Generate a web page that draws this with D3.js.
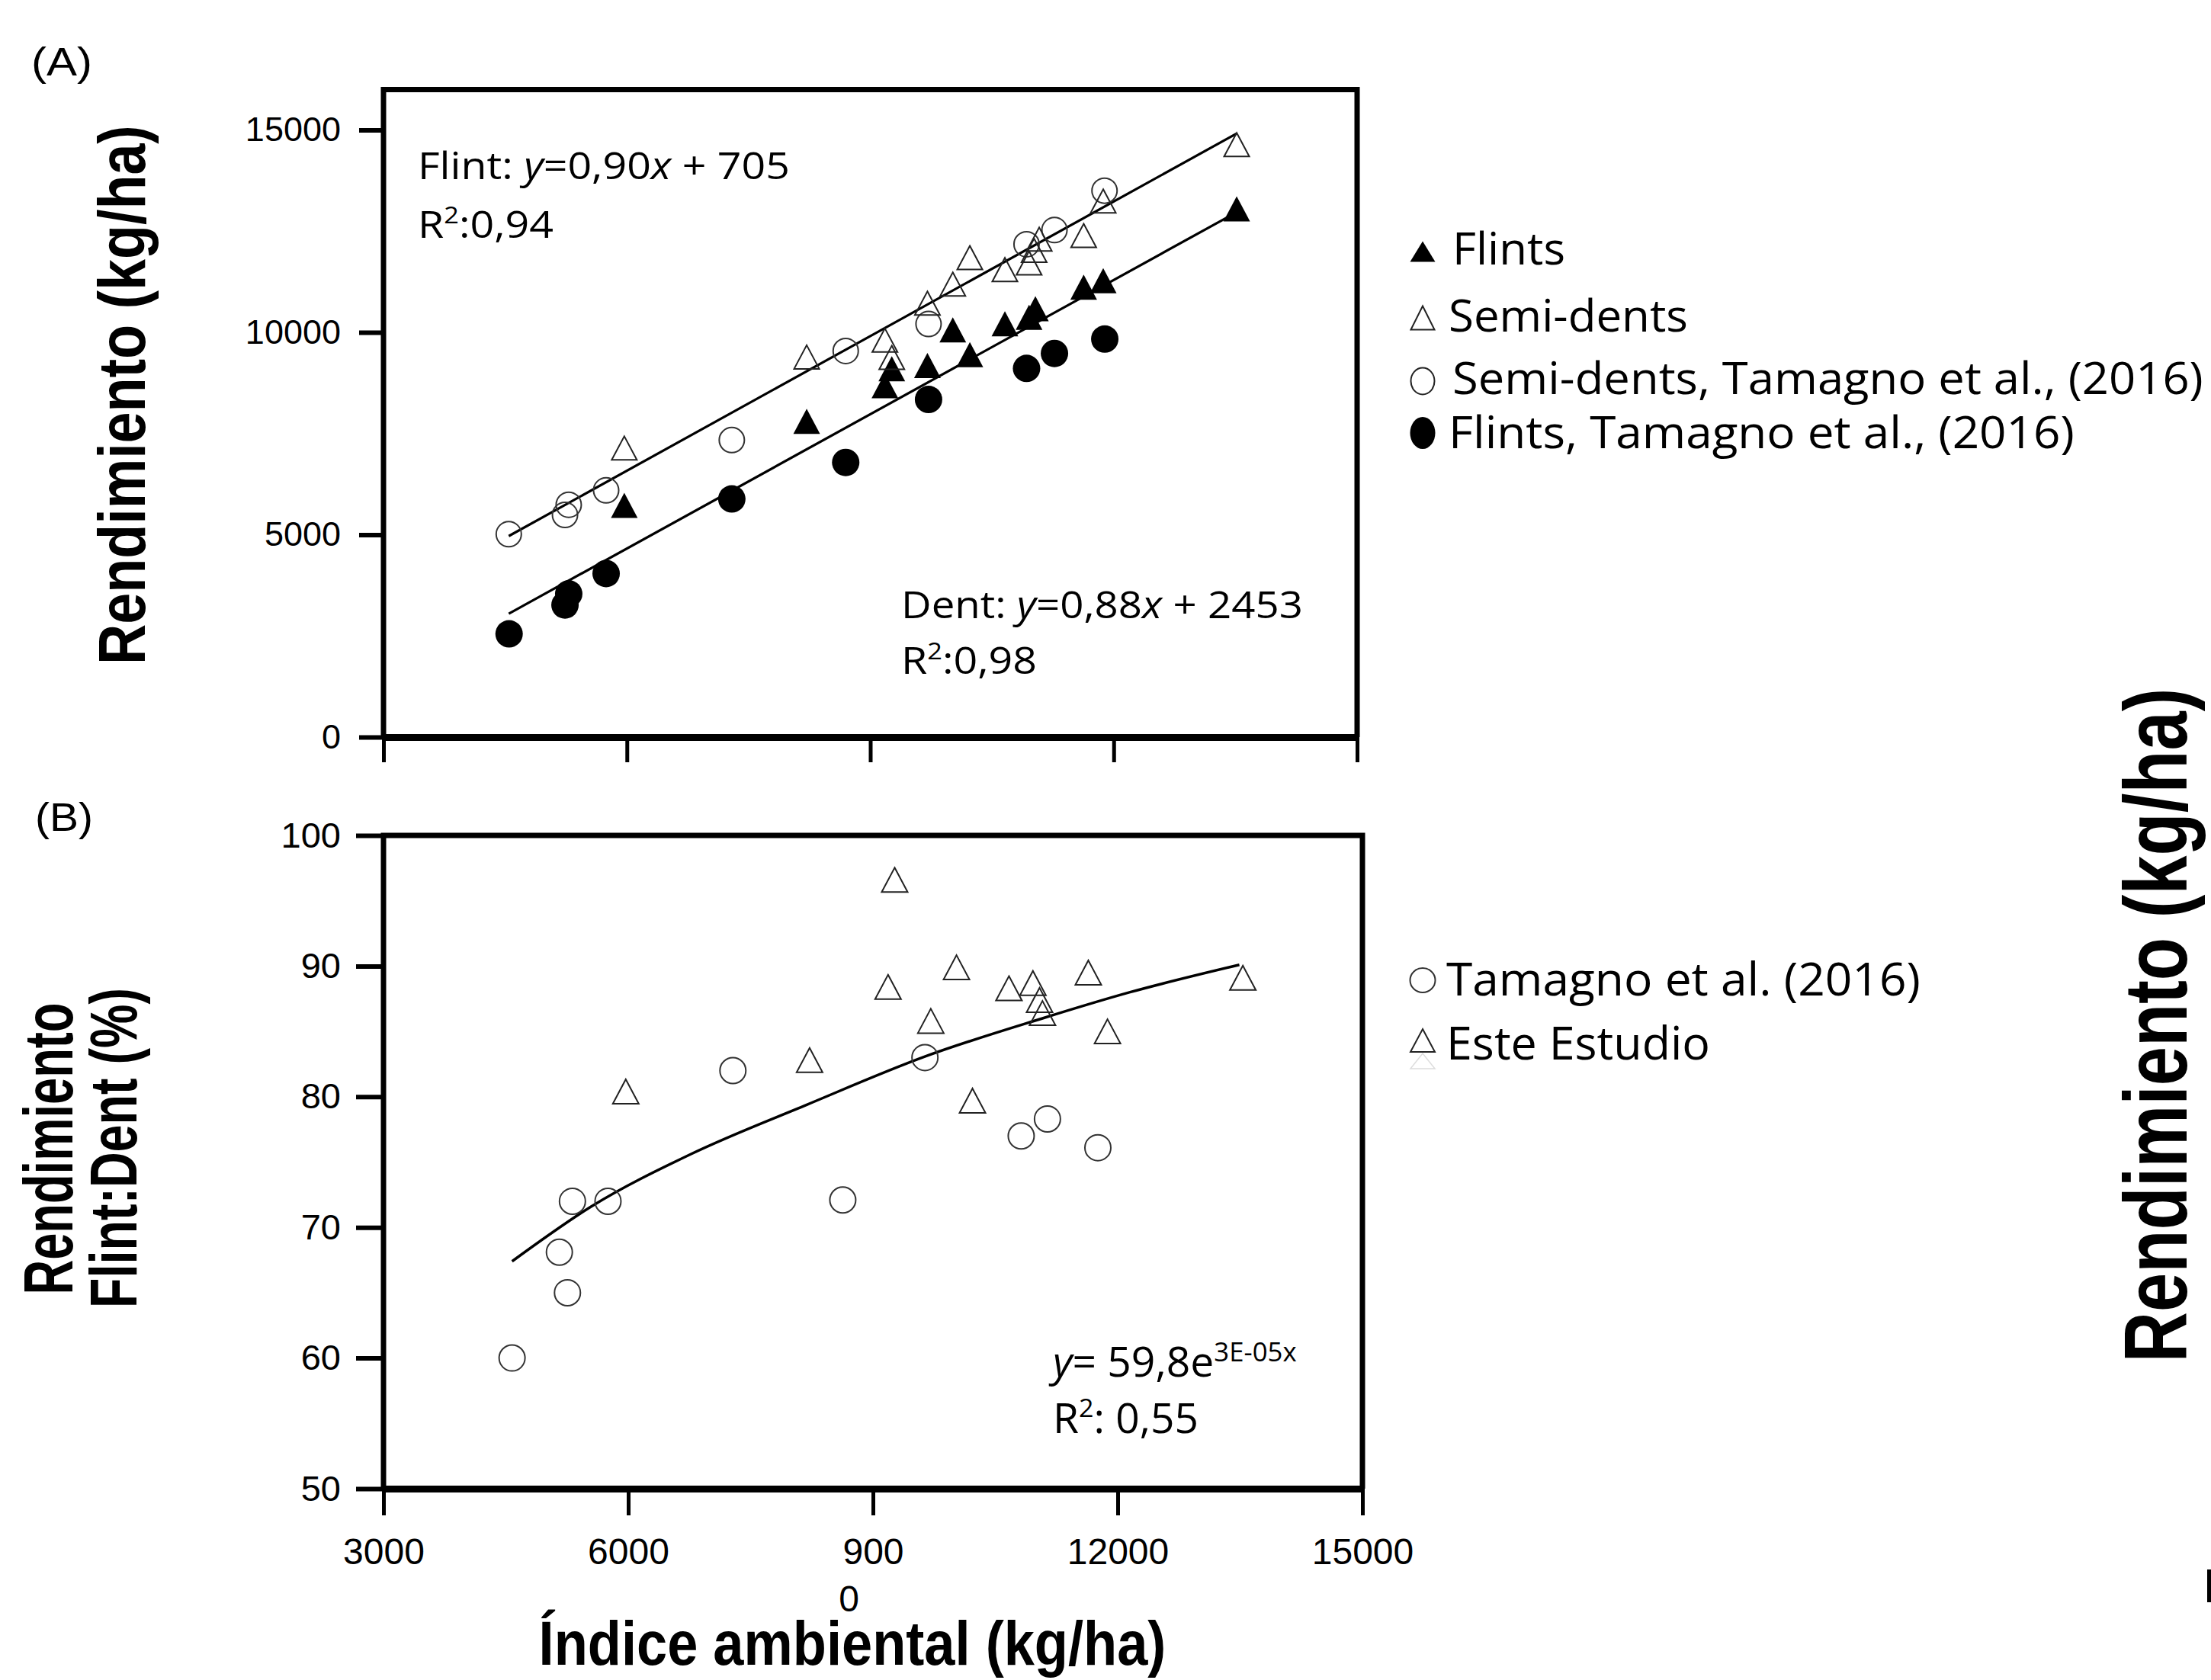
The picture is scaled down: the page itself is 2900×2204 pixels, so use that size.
<!DOCTYPE html>
<html>
<head>
<meta charset="utf-8">
<script src="https://cdn.jsdelivr.net/npm/d3@7"></script>
<style>
  body { margin: 0; background: #fff; }
</style>
</head>
<body>
<script>
// ---- panel A: yield vs environmental index ----
const semiX  = [5968, 8216, 9180, 9265, 9704, 10017, 10227, 10659, 10957, 11019, 11082, 11630, 11871, 13516];
const semiY  = [7140, 9390, 9805, 9377, 10720, 11191, 11844, 11549, 11712, 12026, 12300, 12390, 13243, 14637];
const flintX = [5968, 8216, 9180, 9265, 9704, 10017, 10227, 10659, 10957, 11035, 11630, 11871, 13516];
const flintY = [5726, 7801, 8681, 9101, 9183, 10061, 9447, 10212, 10370, 10583, 11116, 11274, 13049];
const tamSemiX  = [4544, 5237, 5283, 5744, 7293, 8697, 9718, 10926, 11270, 11887];
const tamSemiY  = [5013, 5489, 5740, 6096, 7338, 9540, 10206, 12176, 12528, 13500];
const tamFlintX = [4548, 5237, 5283, 5744, 7293, 8697, 9718, 10926, 11270, 11890];
const tamFlintY = [2550, 3263, 3540, 4041, 5884, 6785, 8342, 9108, 9478, 9835];
// fitted lines (ends)
const upperLineX = [4544, 13516];
const upperLineY = [4967, 14913];
const lowerLineX = [4544, 13516];
const lowerLineY = [3050, 12970];
const ticksAX = [3000, 6000, 9000, 12000, 15000];
const ticksAY = [0, 5000, 10000, 15000];

// ---- panel B: flint:dent ratio ----
const esteX = [5970, 8223, 9185, 9266, 9709, 10024, 10220, 10667, 10961, 11042, 11078, 11640, 11875, 13534];
const esteY = [80.4, 82.8, 88.4, 96.6, 85.8, 89.9, 79.7, 88.3, 88.7, 87.4, 86.4, 89.5, 85.0, 89.1];
const tamX = [4576, 5156, 5255, 5316, 5752, 7283, 8630, 9637, 10817, 11139, 11757];
const tamY = [60.0, 68.1, 65.0, 72.0, 72.0, 82.0, 72.1, 83.0, 77.0, 78.3, 76.1];
const curveX = [4576, 5548, 6765, 8194, 9648, 11078, 12151, 13491];
const curveY = [67.4, 71.6, 75.6, 79.4, 83.1, 86.0, 88.0, 90.1];
const ticksBX = [3000, 6000, 9000, 12000, 15000];
const ticksBY = [50, 60, 70, 80, 90, 100];

const ARIAL = "'Liberation Sans', Arial, sans-serif";
const SANS = "'Open Sans', 'Noto Sans', sans-serif";

const svg = d3.select('body').append('svg')
  .attr('width', 2900).attr('height', 2204)
  .style('background', '#fff');

// squeeze a text to a measured width
function fitText(parent, o, build) {
  const t = parent.append('text')
    .attr('font-family', o.font)
    .attr('font-size', o.size)
    .attr('font-weight', o.weight || 'normal')
    .attr('text-anchor', o.anchor || 'start')
    .attr('fill', '#000');
  build(t);
  const w = t.node().getBBox().width;
  const rot = o.rotate ? ' rotate(' + o.rotate + ')' : '';
  t.attr('transform', 'translate(' + o.x + ',' + o.y + ')' + rot + ' scale(' + (o.width / w) + ',1)');
  return t;
}

function tri(w, h) {
  return 'M0,' + (-h / 2) + 'L' + (w / 2) + ',' + (h / 2) + 'L' + (-w / 2) + ',' + (h / 2) + 'Z';
}

// ================= PANEL A =================
const xA = d3.scaleLinear().domain([3000, 15000]).range([503, 1780]);
const yA = d3.scaleLinear().domain([0, 15000]).range([967, 170.5]);
const gA = svg.append('g');

// frame
gA.append('path')
  .attr('d', 'M' + xA(3000) + ',' + yA(0) + 'V' + yA(16000) + 'H' + xA(15000) + 'V' + yA(0))
  .attr('fill', 'none').attr('stroke', '#000').attr('stroke-width', 7)
  .attr('stroke-linejoin', 'miter');

const axAL = gA.append('g').attr('transform', 'translate(' + xA(3000) + ',0)')
  .call(d3.axisLeft(yA).tickValues(ticksAY).tickSize(32).tickSizeOuter(0).tickPadding(24).tickFormat(d3.format('d')));
axAL.select('.domain').remove();
axAL.selectAll('line').attr('stroke-width', 6);
axAL.selectAll('text').attr('font-family', ARIAL).attr('font-size', 45).attr('fill', '#000');

const axAB = gA.append('g').attr('transform', 'translate(0,' + yA(0) + ')')
  .call(d3.axisBottom(xA).tickValues(ticksAX).tickSize(33).tickSizeOuter(0).tickFormat(''));
axAB.select('.domain').attr('stroke-width', 9);
axAB.selectAll('line').attr('stroke-width', 5);

// fitted lines
const lineA = d3.line().x(d => xA(d[0])).y(d => yA(d[1]));
gA.append('path').datum(d3.zip(upperLineX, upperLineY)).attr('d', lineA)
  .attr('fill', 'none').attr('stroke', '#000').attr('stroke-width', 3.2);
gA.append('path').datum(d3.zip(lowerLineX, lowerLineY)).attr('d', lineA)
  .attr('fill', 'none').attr('stroke', '#000').attr('stroke-width', 3.2);

// points
gA.selectAll('.tfl').data(d3.zip(tamFlintX, tamFlintY)).join('circle')
  .attr('cx', d => xA(d[0])).attr('cy', d => yA(d[1])).attr('r', 18).attr('fill', '#000');
gA.selectAll('.fl').data(d3.zip(flintX, flintY)).join('path')
  .attr('d', tri(35, 33)).attr('transform', d => 'translate(' + xA(d[0]) + ',' + yA(d[1]) + ')')
  .attr('fill', '#000');
gA.selectAll('.tse').data(d3.zip(tamSemiX, tamSemiY)).join('circle')
  .attr('cx', d => xA(d[0])).attr('cy', d => yA(d[1])).attr('r', 16.5)
  .attr('fill', 'none').attr('stroke', '#333').attr('stroke-width', 2);
gA.selectAll('.se').data(d3.zip(semiX, semiY)).join('path')
  .attr('d', tri(33, 31)).attr('transform', d => 'translate(' + xA(d[0]) + ',' + yA(d[1]) + ')')
  .attr('fill', 'none').attr('stroke', '#222').attr('stroke-width', 2);

// equations
function eqLine(x, y, w, name, slope, icpt) {
  fitText(gA, { font: SANS, size: 50, x: x, y: y, width: w }, t => {
    t.append('tspan').text(name + ': ');
    t.append('tspan').attr('font-style', 'italic').text('y');
    t.append('tspan').text('=' + slope);
    t.append('tspan').attr('font-style', 'italic').text('x');
    t.append('tspan').text(' + ' + icpt);
  });
}
function r2(parent, x, y, w, val, size) {
  fitText(parent, { font: SANS, size: size, x: x, y: y, width: w }, t => {
    t.append('tspan').text('R');
    t.append('tspan').attr('font-size', size * 0.62).attr('dy', -size * 0.38).text('2');
    t.append('tspan').attr('dy', size * 0.38).text(val);
  });
}
eqLine(548, 235, 488, 'Flint', '0,90', '705');
r2(gA, 548, 312, 178, ':0,94', 50);
eqLine(1182, 811, 527, 'Dent', '0,88', '2453');
r2(gA, 1182, 884, 178, ':0,98', 50);

// legend A
const legA = svg.append('g');
legA.append('path').attr('d', tri(33, 27)).attr('transform', 'translate(1866,330)').attr('fill', '#000');
legA.append('path').attr('d', tri(31, 31)).attr('transform', 'translate(1866,417)')
  .attr('fill', 'none').attr('stroke', '#222').attr('stroke-width', 2);
legA.append('ellipse').attr('cx', 1866).attr('cy', 500).attr('rx', 15.5).attr('ry', 17.5)
  .attr('fill', 'none').attr('stroke', '#222').attr('stroke-width', 2);
legA.append('ellipse').attr('cx', 1866).attr('cy', 568).attr('rx', 16.5).attr('ry', 21).attr('fill', '#000');
const legAItems = [
  ['Flints', 1905, 347, 148],
  ['Semi-dents', 1900, 435, 314],
  ['Semi-dents, Tamagno et al., (2016)', 1905, 517, 985],
  ['Flints, Tamagno et al., (2016)', 1900, 588, 821]
];
legAItems.forEach(d => fitText(legA, { font: SANS, size: 58, x: d[1], y: d[2], width: d[3] }, t => t.text(d[0])));

// ================= PANEL B =================
const xB = d3.scaleLinear().domain([3000, 15000]).range([503, 1787]);
const yB = d3.scaleLinear().domain([50, 100]).range([1953, 1096]);
const gB = svg.append('g');

gB.append('path')
  .attr('d', 'M' + xB(3000) + ',' + yB(50) + 'V' + yB(100) + 'H' + xB(15000) + 'V' + yB(50))
  .attr('fill', 'none').attr('stroke', '#000').attr('stroke-width', 7);

const axBL = gB.append('g').attr('transform', 'translate(' + xB(3000) + ',0)')
  .call(d3.axisLeft(yB).tickValues(ticksBY).tickSize(36).tickSizeOuter(0).tickPadding(20));
axBL.select('.domain').remove();
axBL.selectAll('line').attr('stroke-width', 6);
axBL.selectAll('text').attr('font-family', ARIAL).attr('font-size', 47).attr('fill', '#000');

const axBB = gB.append('g').attr('transform', 'translate(0,' + yB(50) + ')')
  .call(d3.axisBottom(xB).tickValues(ticksBX).tickSize(35).tickSizeOuter(0).tickPadding(30).tickFormat(d3.format('d')));
axBB.select('.domain').attr('stroke-width', 9);
axBB.selectAll('line').attr('stroke-width', 5);
axBB.selectAll('text').attr('font-family', ARIAL).attr('font-size', 48).attr('fill', '#000');
// the 9000 label is wrapped in the original
axBB.selectAll('.tick').filter(d => d === 9000).select('text').text(null)
  .call(t => {
    t.append('tspan').attr('x', 0).text('900');
    t.append('tspan').attr('x', -32).attr('dy', 62).text('0');
  });

gB.append('path').datum(d3.zip(curveX, curveY))
  .attr('d', d3.line().x(d => xB(d[0])).y(d => yB(d[1])).curve(d3.curveMonotoneX))
  .attr('fill', 'none').attr('stroke', '#000').attr('stroke-width', 3.5);

gB.selectAll('.tam').data(d3.zip(tamX, tamY)).join('circle')
  .attr('cx', d => xB(d[0])).attr('cy', d => yB(d[1])).attr('r', 17)
  .attr('fill', 'none').attr('stroke', '#333').attr('stroke-width', 2);
gB.selectAll('.este').data(d3.zip(esteX, esteY)).join('path')
  .attr('d', tri(34, 32)).attr('transform', d => 'translate(' + xB(d[0]) + ',' + yB(d[1]) + ')')
  .attr('fill', 'none').attr('stroke', '#222').attr('stroke-width', 2);

fitText(gB, { font: SANS, size: 54, x: 1381, y: 1806, width: 326 }, t => {
  t.append('tspan').attr('font-style', 'italic').text('y');
  t.append('tspan').text('= 59,8e');
  t.append('tspan').attr('font-size', 34).attr('dy', -20).text('3E-05x');
});
r2(gB, 1381, 1880, 191, ': 0,55', 54);

// legend B
const legB = svg.append('g');
legB.append('ellipse').attr('cx', 1866).attr('cy', 1286).attr('rx', 16.5).attr('ry', 16)
  .attr('fill', 'none').attr('stroke', '#333').attr('stroke-width', 2);
legB.append('path').attr('d', tri(32, 30)).attr('transform', 'translate(1866,1365)')
  .attr('fill', 'none').attr('stroke', '#222').attr('stroke-width', 2);
legB.append('path').attr('d', tri(32, 20)).attr('transform', 'translate(1866,1392)')
  .attr('fill', 'none').attr('stroke', '#ddd').attr('stroke-width', 1.5);
fitText(legB, { font: SANS, size: 60, x: 1897, y: 1306, width: 622 }, t => t.text('Tamagno et al. (2016)'));
fitText(legB, { font: SANS, size: 60, x: 1897, y: 1390, width: 346 }, t => t.text('Este Estudio'));

// ================= labels & titles =================
fitText(svg, { font: ARIAL, size: 52, x: 41, y: 99, width: 80 }, t => t.text('(A)'));
fitText(svg, { font: ARIAL, size: 52, x: 46, y: 1090, width: 76 }, t => t.text('(B)'));

fitText(svg, { font: ARIAL, size: 88, weight: 'bold', anchor: 'middle', x: 190, y: 518, rotate: -90, width: 708 },
  t => t.text('Rendimiento (kg/ha)'));
fitText(svg, { font: ARIAL, size: 90, weight: 'bold', anchor: 'middle', x: 95, y: 1507, rotate: -90, width: 383 },
  t => t.text('Rendimiento'));
fitText(svg, { font: ARIAL, size: 88, weight: 'bold', anchor: 'middle', x: 179, y: 1506, rotate: -90, width: 420 },
  t => t.text('Flint:Dent (%)'));
fitText(svg, { font: ARIAL, size: 82, weight: 'bold', anchor: 'middle', x: 1118, y: 2184, width: 823 },
  t => t.text('Índice ambiental (kg/ha)'));
fitText(svg, { font: ARIAL, size: 117, weight: 'bold', anchor: 'middle', x: 2868, y: 1345, rotate: -90, width: 885 },
  t => t.text('Rendimiento (kg/ha)'));

// clipped glyph remnant at the right edge
svg.append('rect').attr('x', 2895).attr('y', 2059).attr('width', 5).attr('height', 43).attr('fill', '#000');
</script>
</body>
</html>
